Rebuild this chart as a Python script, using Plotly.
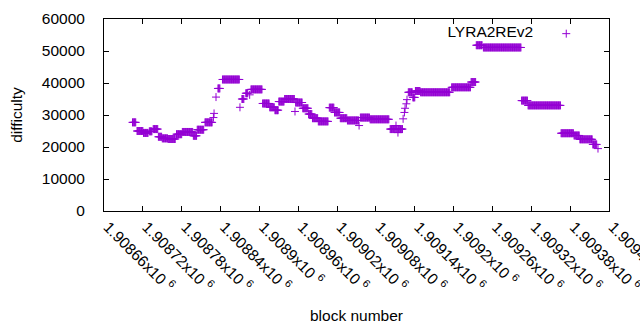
import plotly.graph_objects as go

# Runs of constant difficulty: first block, last block, difficulty
run_first = [1908704, 1908711, 1908721, 1908730, 1908736, 1908744, 1908750, 1908759, 1908772, 1908781,
             1908798, 1908804, 1908816, 1908829, 1908830, 1908833, 1908836, 1908843, 1908870, 1908873,
             1908879, 1908885, 1908887, 1908905, 1908916, 1908924, 1908930, 1908939, 1908955, 1908956,
             1908967, 1908976, 1908982, 1908991, 1909008, 1909016, 1909025, 1909036, 1909054, 1909056,
             1909071, 1909102, 1909111, 1909112, 1909114, 1909115, 1909122, 1909124, 1909125, 1909127,
             1909128, 1909130, 1909137, 1909141, 1909149, 1909197, 1909227, 1909235, 1909246, 1909305,
             1909315, 1909366, 1909386, 1909395, 1909415, 1909423]
run_last = [1908709, 1908720, 1908728, 1908734, 1908743, 1908749, 1908758, 1908770, 1908780, 1908797,
            1908803, 1908814, 1908827, 1908829, 1908830, 1908833, 1908839, 1908869, 1908870, 1908876,
            1908882, 1908885, 1908904, 1908915, 1908923, 1908929, 1908938, 1908954, 1908955, 1908966,
            1908975, 1908981, 1908990, 1909006, 1909015, 1909024, 1909035, 1909053, 1909054, 1909070,
            1909100, 1909110, 1909111, 1909113, 1909114, 1909121, 1909122, 1909124, 1909125, 1909127,
            1909128, 1909136, 1909140, 1909148, 1909194, 1909226, 1909234, 1909244, 1909304, 1909314,
            1909365, 1909385, 1909394, 1909414, 1909421, 1909423]
run_difficulty = [27700, 25000, 24400, 24900, 25600, 23200, 22700, 22500, 24000, 24700,
                  23500, 25400, 27700, 29200, 30500, 35600, 38300, 41100, 32400, 35000,
                  36800, 36300, 38000, 33600, 32400, 31500, 34200, 35000, 31100, 33900,
                  32100, 30300, 29000, 28000, 32300, 30800, 29000, 28300, 26700, 29200,
                  28650, 25600, 26700, 25600, 24500, 25600, 28800, 30800, 32100, 33500,
                  34800, 37100, 35500, 37500, 37100, 38650, 40300, 51800, 51100, 34500,
                  33000, 24300, 23600, 22400, 20800, 19500]

y_tick_values = [0, 10000, 20000, 30000, 40000, 50000, 60000]
y_tick_labels = [str(v) for v in y_tick_values]
x_tick_values = [1908660 + 60 * i for i in range(14)]
x_tick_labels = ["%gx10 <sup>6</sup>" % (v / 1e6) for v in x_tick_values]

blocks, difficulty = [], []
for a, b, d in zip(run_first, run_last, run_difficulty):
    for blk in range(a, b + 1):
        blocks.append(blk)
        difficulty.append(d)

PURPLE = "#9400D3"
FONT = "Liberation Sans, Arial, sans-serif"
FS = 15.5

fig = go.Figure()
fig.add_trace(go.Scatter(
    x=blocks, y=difficulty, mode="markers", name=" ",
    marker=dict(symbol="cross-thin", size=5.7, color=PURPLE,
                line=dict(color=PURPLE, width=1)),
    showlegend=True,
))

axis_common = dict(showline=True, linecolor="black", linewidth=1, mirror="allticks",
                   ticks="inside", ticklen=5, tickcolor="black", tickwidth=1,
                   showgrid=False, zeroline=False,
                   tickfont=dict(family=FONT, size=FS, color="black"))

fig.update_layout(
    width=640, height=330,
    margin=dict(l=104, r=31, t=19, b=119),
    paper_bgcolor="white", plot_bgcolor="white",
    font=dict(family=FONT, size=FS, color="black"),
    showlegend=True,
    legend=dict(x=0.676, y=1.01, xanchor="left", yanchor="top", itemwidth=40,
                title=dict(text="LYRA2REv2", side="left", font=dict(size=FS)),
                bgcolor="rgba(0,0,0,0)", font=dict(size=FS)),
    xaxis=dict(range=[1908660, 1909440], tickvals=x_tick_values, ticktext=x_tick_labels,
               tickangle=45, automargin=False, ticklabeloverflow="allow",
               ticklabelshift=4,
               title=dict(text="block number", standoff=16, font=dict(family=FONT, size=FS)),
               **axis_common),
    yaxis=dict(range=[0, 60000], tickvals=y_tick_values, ticktext=y_tick_labels,
               automargin=False, ticklabelstandoff=15,
               title=dict(text="difficulty", standoff=15, font=dict(family=FONT, size=FS)),
               **axis_common),
)

fig.write_html("out.html", config={"displayModeBar": False},
               post_script="document.body.style.margin='0';")
